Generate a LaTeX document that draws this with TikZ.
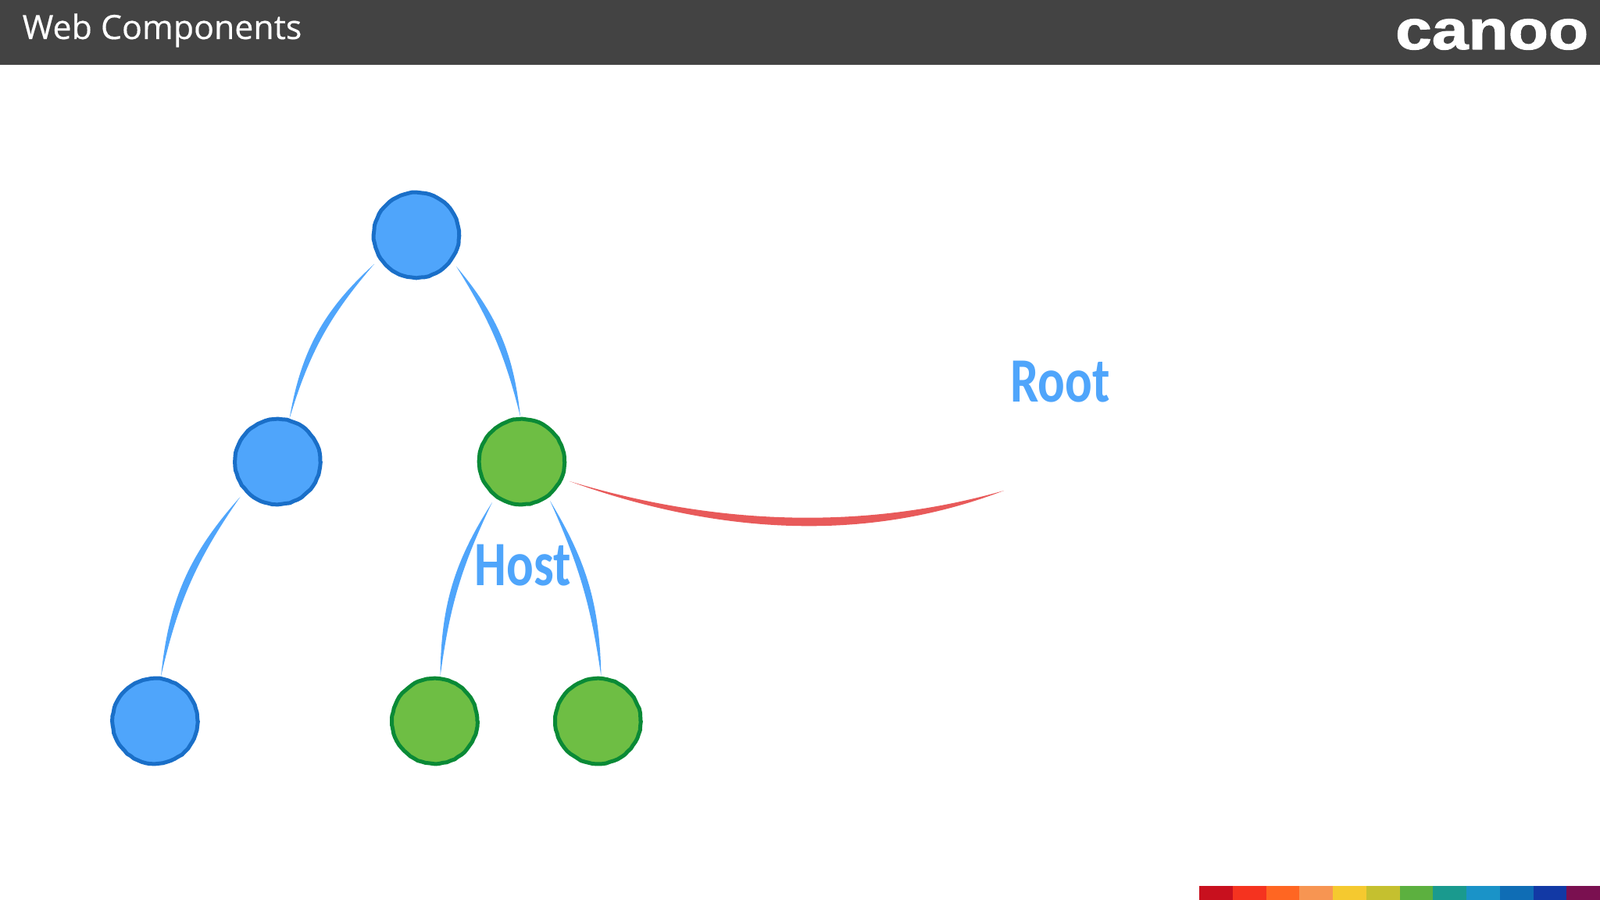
\documentclass[tikz,border=0pt]{standalone}
\usepackage{fontspec}
\usepackage{tikz}
\usetikzlibrary{calc,decorations.pathmorphing}
\setmainfont{Open Sans}[FakeBold=0.4]
\newfontfamily\handfont{Carlito}
\newfontfamily\logofont{Liberation Sans}[BoldFeatures={FakeBold=1.5}]
\definecolor{headgray}{HTML}{434343}
\definecolor{treeblue}{HTML}{4FA5FB}
\definecolor{treebluedark}{HTML}{1A6FC8}
\definecolor{treegreen}{HTML}{6EBE44}
\definecolor{treegreendark}{HTML}{0A8A36}
\definecolor{linkred}{HTML}{E85A5A}
\tikzset{
  roughdot/.style={circle,line width=0.05cm,minimum size=1.09cm,inner sep=0pt,decorate,decoration={random steps,segment length=1.5pt,amplitude=0.12pt}},
  bluedot/.style={roughdot,draw=treebluedark,fill=treeblue},
  greendot/.style={roughdot,draw=treegreendark,fill=treegreen},
  handtext/.style={text=treeblue,anchor=base,inner sep=0pt,font=\handfont\bfseries\fontsize{23pt}{26pt}\selectfont,xscale=0.8}
}

\begin{document}
\begin{tikzpicture}[line cap=round,line join=round,x=1.0cm,y=1.0cm]
\useasboundingbox (0,0) rectangle (20.48,11.52);
\fill[headgray] (0,10.69) rectangle (20.48,11.52);
\node[anchor=base west,text=white,inner sep=0pt,font=\fontsize{12.2pt}{15pt}\selectfont] (title) at (0.28,11.02) {Web Components};
\node[anchor=base east,text=white,inner sep=0pt,font=\logofont\bfseries\fontsize{20.4pt}{24pt}\selectfont,xscale=1.17] (logo) at (20.34,10.89) {canoo};
% colour strip
\foreach \c [count=\i from 0] in {C8101E,F5331F,FF6622,F79552,F5C92F,C5C02F,5CB03F,1A9A8E,1A93C8,0F6DB5,1239A5,7A1050}
{
\definecolor{stripcol}{HTML}{\c}
\fill[stripcol] (15.35+0.4275*\i,0) rectangle (15.35+0.4275*\i+0.4275,0.18);
}
% tree
\node[bluedot] (top) at (5.33,8.51) {};
\node[bluedot] (midl) at (3.555,5.61) {};
\node[greendot] (midr) at (6.68,5.61) {};
\node[bluedot] (botl) at (1.985,2.29) {};
\node[greendot] (botm) at (5.565,2.29) {};
\node[greendot] (botr) at (7.655,2.29) {};
\fill[treeblue] ($(top)+(-0.54,-0.37)$) to[bend right=19] ($(midl)+(0.15,0.55)$) to[bend left=12] ($(top)+(-0.54,-0.37)$);
\fill[treeblue] ($(top)+(0.51,-0.40)$) to[bend left=17] ($(midr)+(-0.02,0.58)$) to[bend right=9] ($(top)+(0.51,-0.40)$);
\fill[treeblue] ($(midl)+(-0.48,-0.45)$) to[bend right=18] ($(botl)+(0.075,0.57)$) to[bend left=11] ($(midl)+(-0.48,-0.45)$);
\fill[treeblue] ($(midr)+(-0.38,-0.52)$) to[bend right=16] ($(botm)+(0.07,0.57)$) to[bend left=9] ($(midr)+(-0.38,-0.52)$);
\fill[treeblue] ($(midr)+(0.36,-0.50)$) to[bend left=15] ($(botr)+(0.04,0.57)$) to[bend right=8] ($(midr)+(0.36,-0.50)$);
% link to the root label
\coordinate (linkend) at (12.85,5.24);
\fill[linkred] ($(midr)+(0.61,-0.25)$) .. controls (9.2,4.67) and (11.1,4.57) .. (linkend) .. controls (11.1,4.74) and (9.2,4.78) .. ($(midr)+(0.61,-0.25)$);
\node[handtext] (host) at (6.69,4.02) {Host};
\node[handtext] (root) at (13.57,6.37) {Root};
\end{tikzpicture}
\end{document}
